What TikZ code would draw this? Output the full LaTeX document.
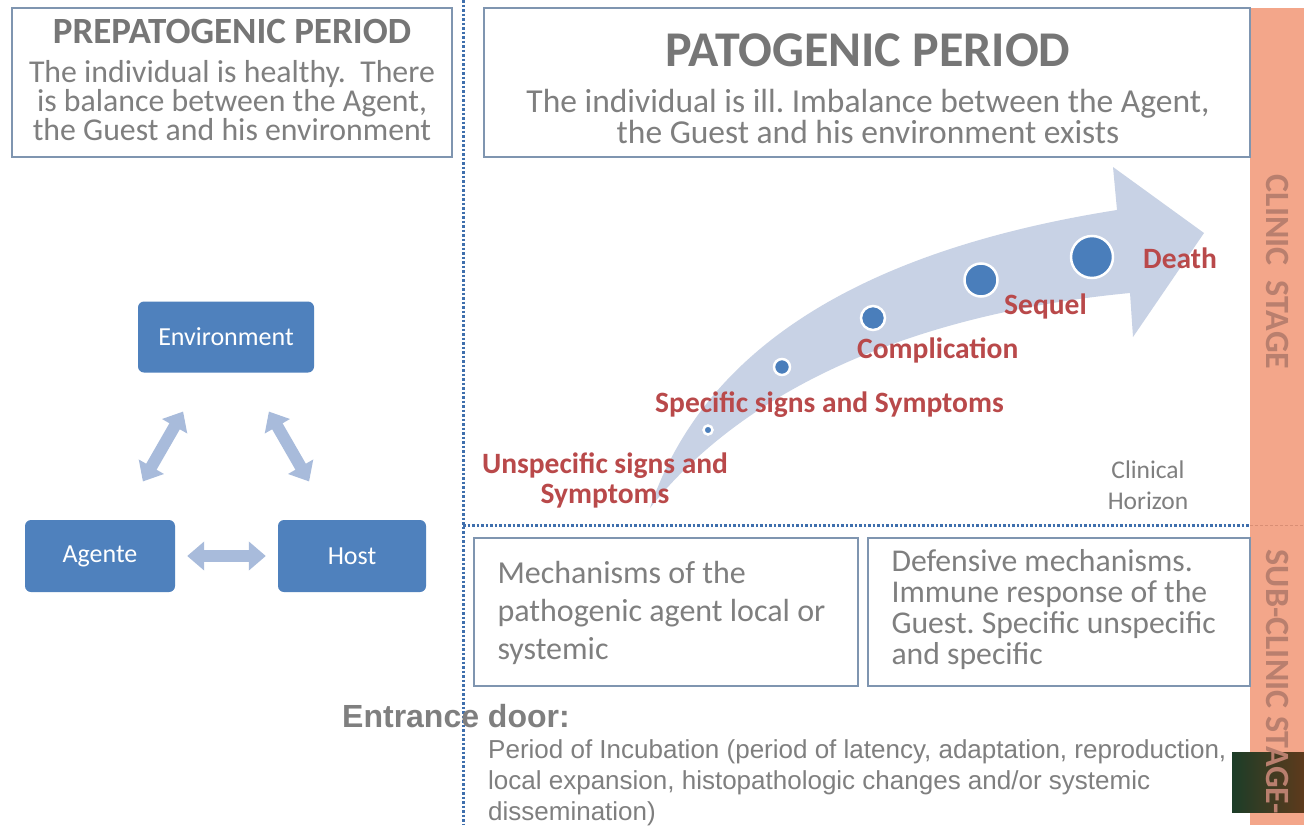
\documentclass[tikz,border=0pt]{standalone}
\usepackage{fontspec}
\setmainfont{Carlito}
\newfontfamily\arialfont{Liberation Sans}
\usetikzlibrary{arrows.meta}
\definecolor{txtgray}{HTML}{7F7F7F}
\definecolor{titlegray}{HTML}{767676}
\definecolor{boxline}{HTML}{7F95B0}
\definecolor{nodeblue}{HTML}{4F81BD}
\definecolor{arrowblue}{HTML}{A8BBDB}
\definecolor{bigarrow}{HTML}{C8D2E5}
\definecolor{salmon}{HTML}{F3A68A}
\definecolor{salmonedge}{HTML}{D98E74}
\definecolor{stagetxt}{HTML}{B97F6E}
\definecolor{redtxt}{HTML}{B9494A}
\definecolor{dotblue}{HTML}{4A7EBB}
\definecolor{divblue}{HTML}{3F6FAD}
\definecolor{darkgreen}{HTML}{1C3D28}
\definecolor{darkbrown}{HTML}{5E3A1C}
\tikzset{
  infobox/.style={draw=boxline, line width=1.8pt},
  entity/.style={fill=nodeblue, rounded corners=6pt, text=white, font=\fontsize{26}{30}\selectfont, inner sep=0pt},
  linkarrow/.style={draw=arrowblue, line width=12pt, {Triangle[length=17pt,width=28pt]}-{Triangle[length=17pt,width=28pt]}},
  divider/.style={draw=divblue, line width=3pt, dash pattern=on 2.5pt off 2pt},
  stage/.style={text=stagetxt, font=\fontsize{34}{36}\selectfont\bfseries, rotate=-90},
  redlabel/.style={text=redtxt, font=\fontsize{29.5}{30}\selectfont\bfseries, inner sep=0pt},
  dotmark/.style={fill=dotblue}
}
\begin{document}
\frenchspacing
\begin{tikzpicture}[x=1pt,y=-1pt]
\useasboundingbox (0,0) rectangle (1304,825);
\fill[white] (0,0) rectangle (1304,825);

% orange stage bar
\fill[salmon] (1250,8) rectangle (1304,825);
\fill[left color=darkgreen, right color=darkbrown] (1232,752) rectangle (1304,812);
\draw[salmonedge, line width=1pt, dash pattern=on 3pt off 2pt] (1250,525) -- (1304,525);
\node[stage] (clinic) at (1278,272) {CLINIC~~STAGE};
\node[stage] (subclinic) at (1278,682) {SUB-CLINIC STAGE-};

% dividers
\coordinate (vtop) at (463,0);
\coordinate (vbot) at (463,825);
\coordinate (hleft) at (463,525);
\coordinate (hright) at (1250,525);
\draw[divider] (vtop) -- (vbot);
\draw[divider] (hleft) -- (hright);

% top boxes
\draw[infobox] (12,8) rectangle (452,157);
\node[text=titlegray, font=\fontsize{37}{40}\selectfont\bfseries] (pretitle) at (232,31) {PREPATOGENIC PERIOD};
\node[text=txtgray, font=\fontsize{31.8}{29}\selectfont, align=center] (pretext) at (232,101) {The individual is healthy.~~There\\is balance between the Agent,\\the Guest and his environment};

\draw[infobox] (484,8) rectangle (1250,157);
\node[text=titlegray, font=\fontsize{50}{54}\selectfont\bfseries] (pattitle) at (868,50) {PATOGENIC PERIOD};
\node[text=txtgray, font=\fontsize{33.5}{31}\selectfont, align=center] (pattext) at (868,116) {The individual is ill. Imbalance between the Agent,\\the Guest and his environment exists};

% triangle
\node[entity, minimum width=176pt, minimum height=71pt] (env) at (226,337) {Environment};
\node[entity, minimum width=150pt, minimum height=72pt] (agt) at (100,556) {Agente};
\node[entity, minimum width=148pt, minimum height=72pt] (host) at (352,556) {Host};
\draw[linkarrow, shorten <=86pt, shorten >=86pt] (env.center) -- (agt.center);
\draw[linkarrow, shorten <=86pt, shorten >=86pt] (env.center) -- (host.center);
\draw[linkarrow, shorten <=12pt, shorten >=12pt] (agt) -- (host);

% big curved arrow
\fill[bigarrow] (650,508) .. controls (690,390) and (800,260) .. (1117,210)
  -- (1113,167) -- (1204,233) -- (1133,337) -- (1130,293)
  .. controls (950,310) and (760,370) .. (650,508) -- cycle;

\draw[dotmark, draw=white, line width=2.5pt] (708,430) circle (4.5pt);
\draw[dotmark, draw=white, line width=2.5pt] (782,367) circle (8pt);
\draw[dotmark, draw=white, line width=2.5pt] (873,318) circle (12pt);
\draw[dotmark, draw=white, line width=2.5pt] (981,280) circle (16.5pt);
\draw[dotmark, draw=white, line width=2.5pt] (1092,257) circle (21pt);

\node[redlabel, anchor=west] (death) at (1143,258) {Death};
\node[redlabel, anchor=west] (sequel) at (1004,306) {Sequel};
\node[redlabel, anchor=west] (compl) at (857,350) {Complication};
\node[redlabel, anchor=west] (spec) at (655,405) {Specific signs and Symptoms};
\node[redlabel, align=center] (unspec) at (605,480) {Unspecific signs and\\Symptoms};
\node[text=txtgray, font=\fontsize{25.5}{31}\selectfont, align=center] (horizon) at (1148,485) {Clinical\\Horizon};

% bottom boxes
\draw[infobox] (474,538) rectangle (858,686);
\node[text=txtgray, font=\fontsize{32}{38}\selectfont, align=left, anchor=west] (mech) at (494,613) {Mechanisms of the\\pathogenic agent local or\\systemic};
\draw[infobox] (868,538) rectangle (1250,686);
\node[text=txtgray, font=\fontsize{31.7}{31}\selectfont, align=left, anchor=west] (defe) at (888,610) {Defensive mechanisms.\\Immune response of the\\Guest. Specific unspecific\\and specific};

% entrance door
\node[text=txtgray, font=\arialfont\bfseries\fontsize{32}{36}\selectfont, anchor=west, inner sep=0pt] (door) at (342,716) {Entrance door:};
\node[text=txtgray, font=\arialfont\fontsize{26}{31}\selectfont, align=left, anchor=north west, inner sep=0pt] (incub) at (488,739) {Period of Incubation (period of latency, adaptation, reproduction,\\local expansion, histopathologic changes and/or systemic\\dissemination)};
\end{tikzpicture}
\end{document}
